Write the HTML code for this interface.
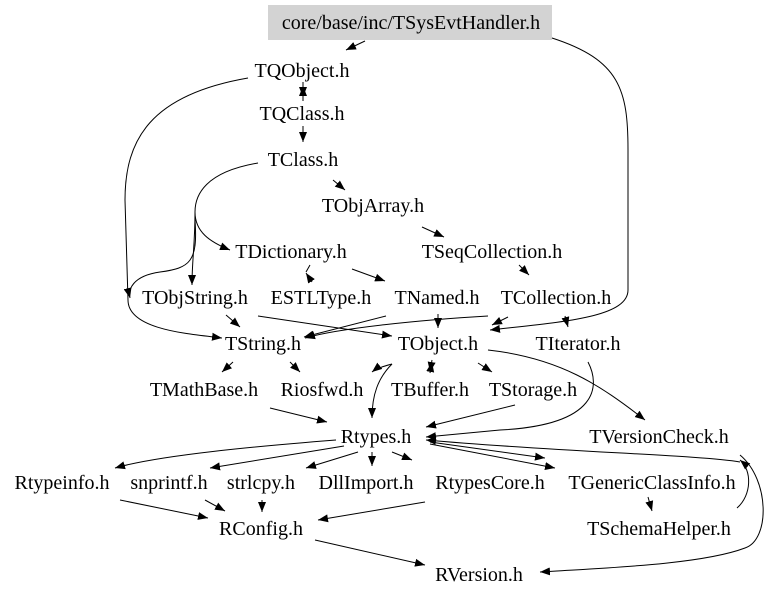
<!DOCTYPE html>
<html><head><meta charset="utf-8"><style>
html,body{margin:0;padding:0;background:#fff;}
svg text{font-family:"Liberation Serif",serif;font-size:20px;fill:#000;}
</style></head><body>
<svg width="768" height="598" viewBox="0 0 768 598" xmlns="http://www.w3.org/2000/svg">
<defs><marker id="a" viewBox="0 0 10 10" refX="10" refY="5" markerWidth="10" markerHeight="10" markerUnits="userSpaceOnUse" orient="auto"><path d="M0,1 L10,5 L0,9 z" fill="#000"/></marker></defs>
<rect x="268" y="5" width="284" height="35" fill="#d3d3d3"/>
<g fill="none" stroke="#000" stroke-width="1" marker-end="url(#a)">
<path d="M365,41 L346,50"/>
<path d="M552,38 C620,60 628,90 628,150 L628,290 C628,318 560,322 490,330"/>
<path d="M303,82 L303,97"/>
<path d="M303,101 L303,86"/>
<path d="M303,126 L303,142"/>
<path d="M248,78 C150,95 125,140 125,200 L128,300 C128,330 190,334 222,338"/>
<path d="M258,163 C205,172 195,195 195,212 C195,232 210,242 230,250"/>
<path d="M195,212 C195,245 192,260 192,285"/>
<path d="M195,220 C198,262 190,268 160,272 C132,276 128,290 130,298"/>
<path d="M333,180 L345,190"/>
<path d="M422,227 L444,237"/>
<path d="M310,265 L306,272" marker-end="none"/>
<path d="M312,282 L306,273"/>
<path d="M352,269 L385,281"/>
<path d="M519,265 L529,275"/>
<path d="M226,315 L240,327"/>
<path d="M258,316 L392,336"/>
<path d="M386,316 L304,337"/>
<path d="M438,314 L438,328"/>
<path d="M488,316 C420,320 340,328 305,338"/>
<path d="M508,317 L492,325"/>
<path d="M565,316 L568,327"/>
<path d="M233,362 L222,372"/>
<path d="M290,362 L300,372"/>
<path d="M392,364 C378,378 372,395 372,418"/>
<path d="M392,364 C385,366 377,368 372,372"/>
<path d="M432,360 L430,372"/>
<path d="M430,373 L432,362"/>
<path d="M478,363 L492,372"/>
<path d="M488,350 C560,358 600,385 645,420"/>
<path d="M588,362 C600,385 600,425 500,430 L426,437"/>
<path d="M515,405 L426,427"/>
<path d="M270,408 L327,422"/>
<path d="M740,462 C700,455 560,452 426,440"/>
<path d="M737,508 C752,495 752,470 740,460"/>
<path d="M430,442 L545,458"/>
<path d="M336,440 C260,446 160,455 115,468"/>
<path d="M344,446 L210,468"/>
<path d="M358,452 L306,468"/>
<path d="M372,452 L372,466"/>
<path d="M392,452 L412,460"/>
<path d="M430,444 L555,468"/>
<path d="M648,497 L652,511"/>
<path d="M740,455 C770,480 770,540 745,548 C700,565 600,568 540,572"/>
<path d="M120,500 L208,518"/>
<path d="M205,500 L225,511"/>
<path d="M262,500 L262,512"/>
<path d="M425,502 L318,520"/>
<path d="M315,540 L425,565"/>
</g>
<g text-anchor="middle">
<text x="411" y="29">core/base/inc/TSysEvtHandler.h</text>
<text x="302" y="77">TQObject.h</text>
<text x="302" y="120">TQClass.h</text>
<text x="303" y="166">TClass.h</text>
<text x="373" y="212">TObjArray.h</text>
<text x="492" y="258">TSeqCollection.h</text>
<text x="291" y="258">TDictionary.h</text>
<text x="195" y="304">TObjString.h</text>
<text x="321" y="304">ESTLType.h</text>
<text x="437" y="304">TNamed.h</text>
<text x="556" y="304">TCollection.h</text>
<text x="263" y="350">TString.h</text>
<text x="438" y="350">TObject.h</text>
<text x="578" y="350">TIterator.h</text>
<text x="204" y="396">TMathBase.h</text>
<text x="322" y="396">Riosfwd.h</text>
<text x="430" y="396">TBuffer.h</text>
<text x="533" y="396">TStorage.h</text>
<text x="376" y="443">Rtypes.h</text>
<text x="659" y="443">TVersionCheck.h</text>
<text x="62" y="489">Rtypeinfo.h</text>
<text x="169" y="489">snprintf.h</text>
<text x="261" y="489">strlcpy.h</text>
<text x="366" y="489">DllImport.h</text>
<text x="490" y="489">RtypesCore.h</text>
<text x="652" y="489">TGenericClassInfo.h</text>
<text x="261" y="535">RConfig.h</text>
<text x="659" y="535">TSchemaHelper.h</text>
<text x="479" y="581">RVersion.h</text>
</g>
</svg>
</body></html>
